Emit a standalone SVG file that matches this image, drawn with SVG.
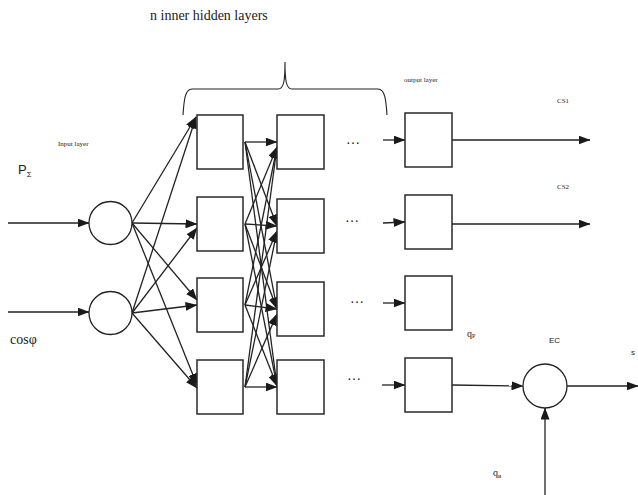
<svg xmlns="http://www.w3.org/2000/svg" width="638" height="495" viewBox="0 0 638 495">
  <style>
    .box { fill: #fff; stroke: #2a2a2a; stroke-width: 1.5; }
    .node { fill: #fff; stroke: #222; stroke-width: 1.3; }
    .ln { fill: none; stroke: #222; stroke-width: 1.3; marker-end: url(#arr); }
    .plain { fill: none; stroke: #222; stroke-width: 1.1; }
    .serif { font-family: "Liberation Serif", "Times New Roman", serif; fill: #222; }
    .sans { font-family: "Liberation Sans", Arial, sans-serif; fill: #222; }
  </style>
  <defs>
    <marker id="arr" markerUnits="userSpaceOnUse" markerWidth="12" markerHeight="9" refX="11.5" refY="4.5" orient="auto">
      <path d="M0,0 L12,4.5 L0,9 z" fill="#1a1a1a"/>
    </marker>
  </defs>
  <rect width="638" height="495" fill="#fff"/>

  <!-- labels -->
  <text class="serif" x="150" y="20" font-size="14">n inner hidden layers</text>
  <text class="serif" x="58" y="146" font-size="7">Input layer</text>
  <text class="serif" x="404" y="82" font-size="7">output layer</text>
  <text class="serif" x="557" y="103" font-size="7">CS1</text>
  <text class="serif" x="557" y="189" font-size="7">CS2</text>
  <text class="sans" x="18" y="174" font-size="13">P<tspan font-size="8" dy="3">Σ</tspan></text>
  <text class="serif" x="10" y="344" font-size="14">cosφ</text>
  <text class="serif" x="467" y="337" font-size="10">q<tspan font-size="6" dy="1">P</tspan></text>
  <text class="sans" x="549" y="343" font-size="8">EC</text>
  <text class="sans" x="631" y="355" font-size="8">s</text>
  <text class="serif" x="493" y="476" font-size="10">q<tspan font-size="6" dy="2">и</tspan></text>

  <!-- brace over the hidden layers -->
  <path class="plain" d="M183,115 C184,100 185,89 192,89 L278,89 C284,89 285,80 285,62 C285,80 286,89 292,89 L378,89 C385,89 386,100 387,115"/>

  <!-- dots between hidden layers and output layer -->
  <g class="serif" font-size="14">
    <text x="346" y="144">…</text>
    <text x="345" y="222">…</text>
    <text x="350" y="303">…</text>
    <text x="347" y="380">…</text>
  </g>

  <!-- connectors -->
  <g id="connectors">
    <!-- inputs -->
    <line class="ln" x1="8" y1="223" x2="89" y2="223"/>
    <line class="ln" x1="8" y1="312" x2="89" y2="312"/>
    <!-- input layer to first hidden layer -->
    <line class="ln" x1="132" y1="223" x2="196" y2="117"/>
    <line class="ln" x1="132" y1="223" x2="197" y2="224"/>
    <line class="ln" x1="132" y1="223" x2="197" y2="300"/>
    <line class="ln" x1="132" y1="223" x2="197" y2="385"/>
    <line class="ln" x1="132" y1="313" x2="196" y2="117"/>
    <line class="ln" x1="132" y1="313" x2="197" y2="228"/>
    <line class="ln" x1="132" y1="313" x2="197" y2="305"/>
    <line class="ln" x1="132" y1="313" x2="197" y2="388"/>
    <!-- first hidden layer to second hidden layer -->
    <line class="ln" x1="245" y1="142" x2="277" y2="142"/>
    <line class="ln" x1="245" y1="142" x2="277" y2="226"/>
    <line class="ln" x1="245" y1="142" x2="277" y2="309"/>
    <line class="ln" x1="245" y1="142" x2="277" y2="386"/>
    <line class="ln" x1="245" y1="224" x2="277" y2="147"/>
    <line class="ln" x1="245" y1="224" x2="277" y2="226"/>
    <line class="ln" x1="245" y1="224" x2="277" y2="309"/>
    <line class="ln" x1="245" y1="224" x2="277" y2="386"/>
    <line class="ln" x1="245" y1="305" x2="277" y2="147"/>
    <line class="ln" x1="245" y1="305" x2="277" y2="231"/>
    <line class="ln" x1="245" y1="305" x2="277" y2="309"/>
    <line class="ln" x1="245" y1="305" x2="277" y2="386"/>
    <line class="ln" x1="245" y1="387" x2="277" y2="147"/>
    <line class="ln" x1="245" y1="387" x2="277" y2="231"/>
    <line class="ln" x1="245" y1="387" x2="277" y2="314"/>
    <line class="ln" x1="245" y1="387" x2="277" y2="387"/>
    <!-- into output layer -->
    <line class="ln" x1="383" y1="140" x2="405" y2="140"/>
    <line class="ln" x1="383" y1="223" x2="405" y2="222"/>
    <line class="ln" x1="383" y1="303" x2="405" y2="303"/>
    <line class="ln" x1="382" y1="385" x2="405" y2="385"/>
    <!-- outputs -->
    <line class="ln" x1="452" y1="140" x2="590" y2="140"/>
    <line class="ln" x1="452" y1="224" x2="590" y2="224"/>
    <line class="ln" x1="452" y1="385" x2="523" y2="386"/>
    <line class="ln" x1="567" y1="386" x2="638" y2="386"/>
    <line class="ln" x1="545" y1="495" x2="545" y2="408"/>
  </g>

  <!-- input layer -->
  <g id="in1"><circle class="node" cx="110.5" cy="223" r="21.5"/></g>
  <g id="in2"><circle class="node" cx="110.5" cy="313" r="21.5"/></g>

  <!-- first hidden layer -->
  <g id="h1-1"><rect class="box" x="197" y="115" width="46" height="54"/></g>
  <g id="h1-2"><rect class="box" x="197" y="197" width="46" height="54"/></g>
  <g id="h1-3"><rect class="box" x="197" y="278" width="46" height="54"/></g>
  <g id="h1-4"><rect class="box" x="197" y="360" width="46" height="54"/></g>

  <!-- second hidden layer -->
  <g id="h2-1"><rect class="box" x="277" y="115" width="47" height="54"/></g>
  <g id="h2-2"><rect class="box" x="277" y="199" width="47" height="54"/></g>
  <g id="h2-3"><rect class="box" x="277" y="282" width="47" height="54"/></g>
  <g id="h2-4"><rect class="box" x="277" y="360" width="47" height="54"/></g>

  <!-- output layer -->
  <g id="out1"><rect class="box" x="405" y="113" width="47" height="54"/></g>
  <g id="out2"><rect class="box" x="405" y="195" width="47" height="54"/></g>
  <g id="out3"><rect class="box" x="405" y="276" width="47" height="54"/></g>
  <g id="out4"><rect class="box" x="405" y="358" width="47" height="54"/></g>

  <!-- EC node -->
  <g id="ec"><circle class="node" cx="545" cy="386" r="22"/></g>
</svg>
